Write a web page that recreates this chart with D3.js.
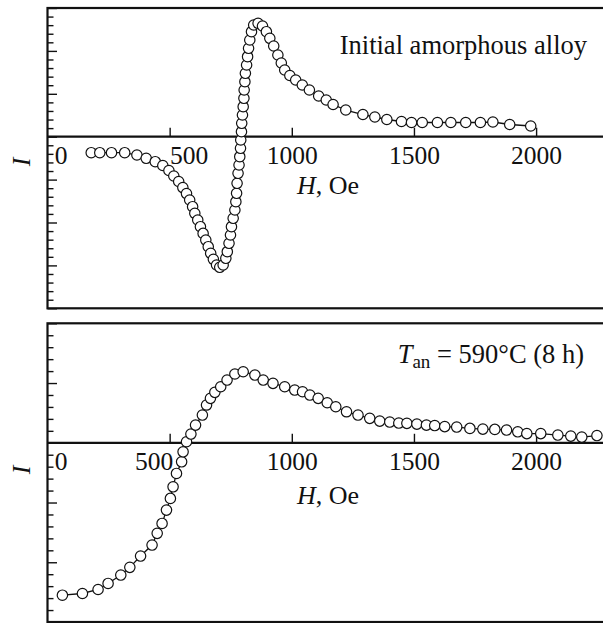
<!DOCTYPE html>
<html>
<head>
<meta charset="utf-8">
<script src="https://cdn.jsdelivr.net/npm/d3@7"></script>
<style>
  html, body { margin: 0; padding: 0; background: #fff; }
  svg { display: block; }
  svg text { font-family: "Liberation Serif", "Times New Roman", Times, "DejaVu Serif", serif !important; fill: #111; }
</style>
</head>
<body>
<svg id="chart" width="603" height="623"></svg>
<script>
// ---- data ----
const xTicks = [0, 500, 1000, 1500, 2000];

const topH = [179, 214, 262, 316, 366, 404, 441, 472, 497, 517, 537, 554, 569, 582, 594, 603, 615, 626, 637, 648,
  658, 668, 679, 692, 705, 719, 730, 736, 743, 749, 753, 760, 767, 771, 774, 776, 780, 784, 787, 790,
  791, 794, 795, 798, 801, 804, 805, 808, 810, 815, 819, 823, 828, 835, 844, 862, 880, 896, 910, 926,
  943, 957, 971, 992, 1016, 1043, 1072, 1110, 1141, 1169, 1221, 1291, 1340, 1389, 1449, 1490, 1534, 1596, 1651, 1712,
  1772, 1823, 1892, 1978];
const topI = [-0.373, -0.373, -0.373, -0.373, -0.427, -0.503, -0.583, -0.671, -0.788, -0.916, -1.044, -1.186, -1.326, -1.476, -1.632, -1.786, -1.942, -2.098, -2.254, -2.410,
  -2.564, -2.718, -2.858, -2.991, -3.044, -2.991, -2.834, -2.681, -2.485, -2.291, -2.098, -1.902, -1.709, -1.515, -1.319, -1.086, -0.853, -0.660, -0.466, -0.270,
  -0.077, 0.117, 0.312, 0.506, 0.699, 0.895, 1.089, 1.282, 1.478, 1.671, 1.865, 2.061, 2.254, 2.448, 2.604, 2.643, 2.580, 2.448, 2.294, 2.114,
  1.904, 1.718, 1.555, 1.427, 1.322, 1.205, 1.089, 0.949, 0.855, 0.751, 0.622, 0.517, 0.459, 0.401, 0.354, 0.331, 0.331, 0.331, 0.331, 0.331,
  0.331, 0.343, 0.284, 0.249];

const botH = [61, 143, 207, 248, 300, 337, 381, 428, 449, 469, 487, 503, 514, 528, 549, 555, 569, 587, 606, 634,
  651, 667, 685, 709, 735, 767, 801, 849, 883, 923, 971, 1012, 1044, 1074, 1108, 1145, 1180, 1224, 1271, 1319,
  1360, 1401, 1438, 1471, 1512, 1551, 1585, 1626, 1675, 1729, 1782, 1831, 1879, 1925, 1962, 2019, 2089, 2142, 2187, 2249];
const botI = [-2.551, -2.523, -2.456, -2.355, -2.214, -2.085, -1.896, -1.712, -1.516, -1.350, -1.127, -0.931, -0.737, -0.513, -0.318, -0.151, 0.017, 0.146, 0.296, 0.464,
  0.632, 0.744, 0.844, 0.938, 1.050, 1.151, 1.189, 1.134, 1.050, 0.995, 0.938, 0.883, 0.854, 0.799, 0.744, 0.670, 0.603, 0.519, 0.464, 0.409,
  0.363, 0.347, 0.330, 0.325, 0.313, 0.296, 0.288, 0.271, 0.263, 0.241, 0.229, 0.224, 0.213, 0.184, 0.154, 0.154, 0.129, 0.112, 0.095, 0.121];

// ---- drawing ----
const svg = d3.select("#chart");
const X0 = 47.5, XR = 620;
const x = d3.scaleLinear().domain([0, 2300]).range([X0, X0 + 2300 * 122.15 / 500]);

const panels = [
  { H: topH, I: topI, dom: [-4, 3], rng: [308.3, 8], lbl: [13, 19], hy: 57.5, ly: 162 },
  { H: botH, I: botI, dom: [-3, 2], rng: [622, 323.3], lbl: [13, -16], hy: 61, ly: 470 }
];

panels.forEach((p, pi) => {
  const y = d3.scaleLinear().domain(p.dom).range(p.rng);
  const g = svg.append("g");
  const y0 = y(0);

  // minor + major y ticks (inward)
  const minor = d3.range(Math.round(p.dom[0] * 5), Math.round(p.dom[1] * 5) + 1).map(k => k / 5)
    .filter(v => Math.abs(v - Math.round(v)) > 1e-6);
  const major = d3.range(p.dom[0], p.dom[1] + 1);
  g.append("g").attr("transform", `translate(${X0},0)`)
    .call(d3.axisRight(y).tickValues(minor).tickSize(6).tickFormat(""))
    .call(s => s.select(".domain").remove())
    .call(s => s.selectAll("line").attr("stroke", "#111").attr("stroke-width", 1.4));
  g.append("g").attr("transform", `translate(${X0},0)`)
    .call(d3.axisRight(y).tickValues(major).tickSize(9.5).tickFormat(""))
    .call(s => s.select(".domain").remove())
    .call(s => s.selectAll("line").attr("stroke", "#111").attr("stroke-width", 1.4));

  // frame
  g.append("rect").attr("x", X0).attr("y", p.rng[1]).attr("width", XR - X0).attr("height", p.rng[0] - p.rng[1])
    .attr("fill", "none").attr("stroke", "#111").attr("stroke-width", 2.2);

  // x axis on the zero line: ticks upward
  g.append("g").attr("transform", `translate(0,${y0})`)
    .call(d3.axisTop(x).tickValues(xTicks.filter(v => v > 0)).tickSize(9).tickFormat(""))
    .call(s => s.select(".domain").remove())
    .call(s => s.selectAll("line").attr("stroke", "#111").attr("stroke-width", 1.4));
  g.append("line").attr("x1", X0).attr("x2", XR).attr("y1", y0).attr("y2", y0)
    .attr("stroke", "#111").attr("stroke-width", 2.2);

  // x tick labels (below the zero line)
  const lab = g.append("g").attr("transform", `translate(0,${y0})`)
    .call(d3.axisBottom(x).tickValues(xTicks).tickSize(0).tickFormat(d3.format("d")));
  lab.select(".domain").remove();
  lab.attr("font-family", null).attr("font-size", null);
  lab.selectAll("text")
    .attr("y", 27).attr("dy", 0)
    .attr("font-size", 25.5)
    .attr("fill", "#111")
    .attr("dx", d => d === 0 ? p.lbl[0] : (d === 500 ? p.lbl[1] : 0));

  // H, Oe
  const ht = g.append("text").attr("x", 328).attr("y", y0 + p.hy).attr("text-anchor", "middle").attr("font-size", 26);
  ht.append("tspan").attr("font-style", "italic").text("H");
  ht.append("tspan").text(", Oe");

  // I label
  g.append("text").attr("transform", `translate(30,${p.ly}) rotate(-90)`).attr("text-anchor", "middle")
    .attr("font-size", 26).attr("font-style", "italic").text("I");

  // line + markers
  const pts = p.H.map((h, i) => [h, p.I[i]]);
  g.append("path").datum(pts)
    .attr("d", d3.line().x(d => x(d[0])).y(d => y(d[1])))
    .attr("fill", "none").attr("stroke", "#111").attr("stroke-width", 1.3);
  g.selectAll("circle.pt").data(pts).join("circle").attr("class", "pt")
    .attr("cx", d => x(d[0])).attr("cy", d => y(d[1])).attr("r", 5.2)
    .attr("fill", "#fff").attr("stroke", "#111").attr("stroke-width", 1.2);

  // annotation
  if (pi === 0) {
    g.append("text").attr("x", 587).attr("y", 54).attr("text-anchor", "end").attr("font-size", 26.5)
      .text("Initial amorphous alloy");
  } else {
    const t = g.append("text").attr("x", 584).attr("y", 363).attr("text-anchor", "end").attr("font-size", 26.5);
    t.append("tspan").attr("font-style", "italic").text("T");
    t.append("tspan").attr("font-size", 19).attr("dy", 5).text("an");
    t.append("tspan").attr("dy", -5).text(" = 590°C (8 h)");
  }
});
</script>
</body>
</html>
